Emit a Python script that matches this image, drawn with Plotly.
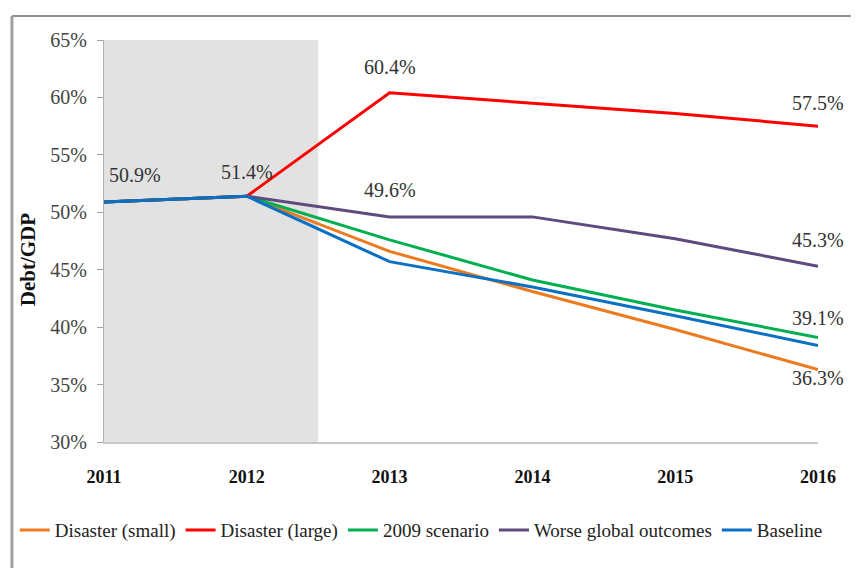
import plotly.graph_objects as go

years = [2011, 2012, 2013, 2014, 2015, 2016]
disaster_small = [50.9, 51.4, 46.6, 43.1, 39.8, 36.3]
disaster_large = [50.9, 51.4, 60.4, 59.5, 58.6, 57.5]
scenario_2009 = [50.9, 51.4, 47.6, 44.1, 41.5, 39.1]
worse_global = [50.9, 51.4, 49.6, 49.6, 47.7, 45.3]
baseline = [50.9, 51.4, 45.7, 43.5, 41.0, 38.4]

series_names = ["Disaster (small)", "Disaster (large)", "2009 scenario", "Worse global outcomes", "Baseline"]
series_values = [disaster_small, disaster_large, scenario_2009, worse_global, baseline]
series_colors = ["#EE7A1E", "#FF0000", "#00B050", "#5E4A7E", "#0A70C4"]

# labelled points: (year, value)
label_years = [2011, 2012, 2013, 2013, 2016, 2016, 2016, 2016]
label_values = [50.9, 51.4, 60.4, 49.6, 57.5, 45.3, 39.1, 36.3]
label_yshift = [27, 24, 26, 27, 23, 26, 19, -8]

y_title = "Debt/GDP"
shade_end = 2012.5
y_min, y_max = 30, 65

SERIF = "Liberation Serif"

fig = go.Figure()

for name, vals, col in zip(series_names, series_values, series_colors):
    fig.add_trace(go.Scatter(x=years, y=vals, mode="lines", name=name,
                             line=dict(color=col, width=3)))

# shaded historical area
fig.add_shape(type="rect", xref="x", yref="y", x0=years[0], x1=shade_end,
              y0=y_min, y1=y_max, fillcolor="#E2E2E2", line=dict(width=0),
              layer="below")

for yr, v, ys in zip(label_years, label_values, label_yshift):
    fig.add_annotation(x=yr, y=v, text=f"{v:.1f}%", showarrow=False,
                       xanchor="left" if yr == years[0] else "center",
                       xshift=3 if yr == years[0] else 0,
                       yanchor="middle", yshift=ys,
                       font=dict(family=SERIF, size=20, color="#333333"))

# y-axis title
fig.add_annotation(x=-0.106, y=0.453, xref="paper", yref="paper", text=f"<b>{y_title}</b>",
                   textangle=-90, showarrow=False, xanchor="center", yanchor="middle",
                   font=dict(family=SERIF, size=21, color="#111111"))

# outer frame
fig.add_shape(type="line", xref="paper", yref="paper", x0=-0.1289, x1=-0.1289,
              y0=-0.32, y1=1.0597, line=dict(color="#A0A0A0", width=3))
fig.add_shape(type="line", xref="paper", yref="paper", x0=-0.1289, x1=1.055,
              y0=1.0597, y1=1.0597, line=dict(color="#909090", width=2))
fig.add_shape(type="line", xref="paper", yref="paper", x0=1.0535, x1=1.0535,
              y0=-0.32, y1=1.0597, line=dict(color="#E0E0E0", width=1))

fig.update_layout(
    width=851, height=560,
    margin=dict(l=96, r=41, t=32, b=126, autoexpand=False),
    paper_bgcolor="white", plot_bgcolor="white",
    showlegend=True,
    legend=dict(orientation="h", x=-0.125, xanchor="left", y=-0.219, yanchor="middle",
                font=dict(family=SERIF, size=19, color="#222222"),
                itemwidth=30, tracegroupgap=0),
)

fig.update_xaxes(range=[years[0], years[-1]], tickvals=years, ticktext=[str(y) for y in years],
                 showgrid=False, zeroline=False, showline=True, linecolor="#C8C8C8", linewidth=2,
                 ticks="", ticklabelstandoff=17, automargin=False,
                 tickfont=dict(family=SERIF, size=18, color="#111111", weight="bold"))
fig.update_yaxes(range=[y_min, y_max], dtick=5, ticksuffix="%",
                 showgrid=False, zeroline=False, showline=True, linecolor="#B0B0B0", linewidth=1,
                 ticks="outside", ticklen=6, tickcolor="#A0A0A0", ticklabelstandoff=6,
                 automargin=False,
                 tickfont=dict(family=SERIF, size=20, color="#444444"))

fig.write_html("out.html")
